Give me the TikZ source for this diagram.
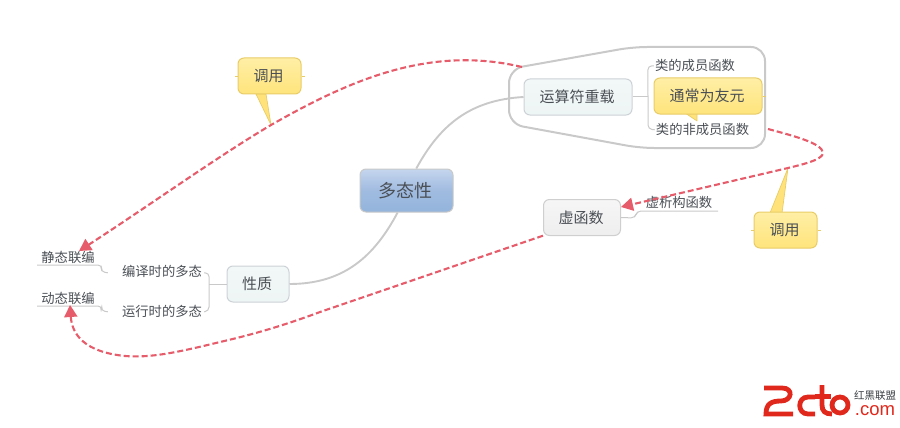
\documentclass[tikz,border=0pt]{standalone}
\usepackage{fontspec}
\setmainfont{Noto Sans CJK SC}
\newfontfamily\latinlogo{Liberation Sans}
\usetikzlibrary{arrows.meta,calc}
\definecolor{inkc}{HTML}{4A4F55}
\definecolor{linec}{HTML}{C9C9C9}
\definecolor{redc}{HTML}{E65C6A}
\definecolor{logoc}{HTML}{E0281C}
\definecolor{yelb}{HTML}{E8CC68}
\definecolor{coreA}{HTML}{C5D5EE}
\definecolor{coreB}{HTML}{94B4DC}
\definecolor{coreM}{HTML}{A0BBE0}
\definecolor{lightD}{HTML}{CDD2D6}
\definecolor{lightA}{HTML}{F2F7F7}
\definecolor{lightB}{HTML}{EEF5F5}
\definecolor{greyD}{HTML}{CFCFCF}
\definecolor{greyA}{HTML}{F6F6F6}
\definecolor{greyB}{HTML}{EEEEEE}
\definecolor{yelA}{HTML}{FFEFA6}
\definecolor{yelB}{HTML}{FFE47C}
\definecolor{yelT}{HTML}{FFE27A}
\newcommand{\fsz}[1]{\fontsize{#1}{#1}\selectfont}
\tikzset{
  x=1pt,y=-1pt,
  box/.style={rounded corners=6pt,minimum height=36pt,inner sep=0pt,text=inkc,font=\fsz{15},execute at begin node={\hspace*{-2pt}}},
  corebox/.style={box,draw=linec,line width=1pt,minimum width=93pt,minimum height=43pt,top color=coreA,bottom color=coreB,middle color=coreM,font=\fsz{18}},
  lightbox/.style={box,draw=lightD,line width=1pt,top color=lightA,bottom color=lightB},
  greybox/.style={box,draw=greyD,line width=1pt,top color=greyA,bottom color=greyB},
  notebox/.style={box,draw=yelb,line width=1pt,top color=yelA,bottom color=yelB},
  tip/.style={fill=yelT,draw=yelb,line width=.7pt,line join=round},
  tick/.style={draw=yelb,line width=.7pt},
  leaf/.style={inner sep=0pt,text=inkc,font=\fsz{13.3},yshift=-.8pt},
  link/.style={draw=linec,line width=1pt,rounded corners=4pt},
  branch/.style={draw=linec,line width=1.9pt},
  rel/.style={draw=redc,line width=2.1pt,dash pattern=on 6pt off 3pt,-{Triangle[length=12pt,width=13pt]}}
}
\begin{document}
\begin{tikzpicture}
\useasboundingbox (0,0) rectangle (900,428);
% boundary
\draw[draw=linec,line width=2pt,rounded corners=14pt]
  (509,69) -- (633,47) -- (765,47) -- (765,148) -- (640,148) -- (509,124) -- cycle;
% coordinates
\coordinate (relAstart) at (522,67);
\coordinate (relAend) at (79,251);
\coordinate (relBstart) at (768,129);
\coordinate (relCend) at (70,305);
\coordinate (tipL) at (271,125);
\coordinate (tipR) at (788,168);
\coordinate (tipF) at (697,121);
% nodes
\node[corebox] (core) at (406.5,190.5) {多态性};
\node[lightbox,minimum width=108pt] (ops) at (578,97) {运算符重载};
\node[lightbox,minimum width=62pt] (prop) at (258,284) {性质};
\node[greybox,minimum width=77pt] (virt) at (582,217.5) {虚函数};
\node[leaf] (member) at (695,65) {类的成员函数};
\node[leaf] (nonmember) at (702.5,129) {类的非成员函数};
\node[leaf] (dtor) at (679,202) {虚析构函数};
\node[leaf] (compile) at (162,271) {编译时的多态};
\node[leaf] (runtime) at (162,311) {运行时的多态};
\node[leaf] (static) at (68,257) {静态联编};
\node[leaf] (dynamic) at (68,298) {动态联编};
% callout tips
\draw[tip] (685,113) -- (tipF) -- (697,113) -- cycle;
\draw[tip] (256,94) -- (tipL) -- (266,94) -- cycle;
\draw[tip] (770,213) -- (tipR) -- (782,213) -- cycle;
% callouts
\node[notebox,minimum width=108pt] (friend) at (708,96) {通常为友元};
\node[notebox,minimum width=63pt] (callL) at (269.5,76) {调用};
\node[notebox,minimum width=63pt] (callR) at (785.5,230) {调用};
\draw[tick] (callL.west) -- ++(-3,0);
\draw[tick] (callL.east) -- ++(3,0);
\draw[tick] (callR.west) -- ++(-3,0);
\draw[tick] (callR.east) -- ++(3,0);
\draw[tick] (friend.east) -- ++(3,0);
% main branches
\draw[branch] (core.66) .. controls (440,125) and (470,100) .. (ops.west);
\draw[branch] (core.248) .. controls (375,255) and (345,284) .. (prop.east);
% sub links
\coordinate (opsJ) at (648,97);
\coordinate (propJ) at (209,284);
\draw[link] (ops.east) -- (opsJ);
\draw[link] (member.west) ++(-1,0) -- ++(-6,0) -- (648,97) -- (648,129) -- ($(nonmember.west)+(-1,0)$);
\draw[link] (prop.west) -- (propJ);
\draw[link] (compile.east) ++(2,1) -- ++(5,0) -- (209,284) -- (209,311) -- ($(runtime.east)+(2,0)$);
\draw[link] (virt.east) -- (635,218) -- (637,211) -- (718,211);
\draw[link] (compile.west) ++(-14,1) -- ++(-7,-1) -- (102,265) -- (37,265);
\draw[link] (runtime.west) ++(-14,0) -- ++(-7,-1) -- (102,306) -- (37,306);
% relations
\draw[rel] (relAstart) .. controls (430,45) and (350,80) .. (tipL) .. controls (220,155) and (150,205) .. (relAend);
\draw[rel] (relBstart) .. controls (790,135) and (823,143) .. (823,153) .. controls (823,160) and (800,165) .. (tipR) -- (virt.east |- 0,207);
\draw[rel] (virt.205) -- (320,312) .. controls (285,325) and (255,334) .. (220,342) .. controls (175,353) and (150,358) .. (125,356) .. controls (85,352) and (72,335) .. (relCend);
% logo
\begin{scope}[draw=logoc,line width=4.8pt,line cap=butt]
\draw (764,388) -- (782,388) .. controls (794,388) and (792,401) .. (781,401) .. controls (771,401) and (766,404) .. (766,414) -- (793,414);
\draw (815,397) -- (808,397) .. controls (797,397) and (797,414) .. (808,414) -- (815,414);
\draw (822,385) -- (822,405) .. controls (822,411) and (825,414) .. (832,414);
\draw (815,396.5) -- (831,396.5);
\draw (840,405) circle[radius=8];
\end{scope}
\node[inner sep=0pt,text=inkc!80!black,font=\fsz{10.5}] (logotop) at (875,395.5) {红黑联盟};
\node[inner sep=0pt,text=logoc,font=\latinlogo\fsz{18.5}] (logocom) at (875,411) {.com};
\end{tikzpicture}
\end{document}
